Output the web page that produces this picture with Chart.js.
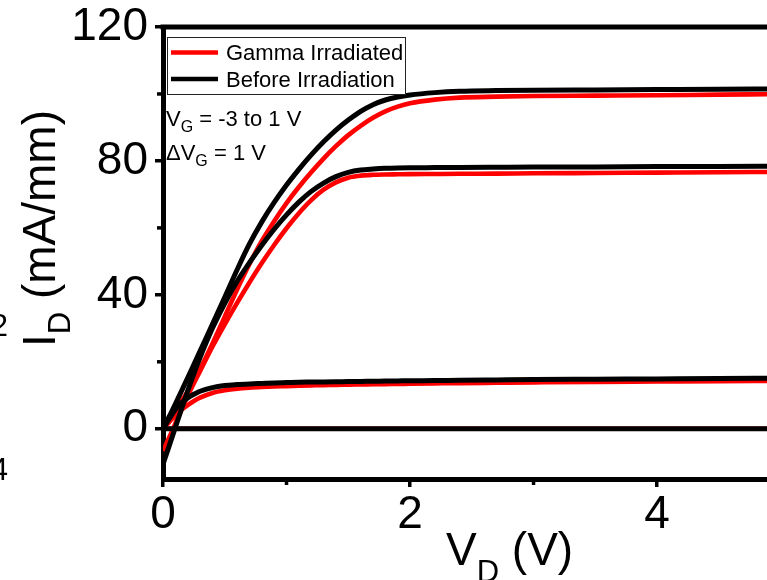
<!DOCTYPE html>
<html><head><meta charset="utf-8">
<script src="https://cdn.jsdelivr.net/npm/chart.js@4.4.0/dist/chart.umd.min.js"></script>
<style>html,body{margin:0;padding:0;background:#fff;overflow:hidden}#wrap{width:767px;height:580px;position:relative}canvas{display:block}</style>
</head><body><div id="wrap"><canvas id="c" width="767" height="580"></canvas></div>
<script>
// Drain voltage samples (V)
const vd = [0, 0.05, 0.1, 0.15, 0.2, 0.25, 0.3, 0.4, 0.5, 0.6, 0.7, 0.8, 0.9, 1.0, 1.1, 1.2, 1.3, 1.4, 1.5, 1.6, 1.7, 1.8, 1.9, 2.0, 2.2, 2.4, 2.7, 3.0, 3.5, 4.0, 4.5, 4.9];
// Before irradiation, I_D (mA/mm)
const beforeVg1   = [0, 3.6, 7.4, 11.3, 15.2, 19.2, 23.2, 31.2, 39.3, 47.5, 55.2, 61.8, 67.6, 72.8, 77.5, 81.8, 85.7, 89.2, 92.2, 94.8, 96.8, 98.2, 99.1, 99.7, 100.4, 100.8, 101.0, 101.1, 101.2, 101.3, 101.4, 101.5];
const beforeVg0   = [-10.6, -5.1, 0.4, 5.9, 11.3, 16.5, 21.3, 30, 37.5, 44, 49.6, 54.8, 59.6, 63.9, 67.7, 70.9, 73.4, 75.3, 76.6, 77.3, 77.6, 77.8, 77.9, 77.95, 78.0, 78.05, 78.1, 78.15, 78.2, 78.3, 78.35, 78.4];
const beforeVgM1  = [0, 3, 5.8, 7.8, 9.2, 10.3, 11.2, 12.3, 12.9, 13.2, 13.4, 13.55, 13.7, 13.8, 13.9, 13.95, 14.0, 14.05, 14.1, 14.15, 14.2, 14.25, 14.3, 14.35, 14.4, 14.5, 14.6, 14.7, 14.8, 14.9, 15.0, 15.1];
const beforeVgM2  = [0, 0, 0, 0, 0, 0, 0, 0, 0, 0, 0, 0, 0, 0, 0, 0, 0, 0, 0, 0, 0, 0, 0, 0, 0, 0, 0, 0, 0, 0, 0, 0];
// Gamma irradiated, I_D (mA/mm)
const gammaVg1    = [0, 2.5, 5.2, 8.2, 11.2, 14.4, 17.8, 25.4, 33.5, 41.6, 49.2, 56.1, 62.0, 67.4, 72.2, 76.6, 80.7, 84.4, 87.7, 90.5, 92.9, 94.8, 96.2, 97.2, 98.3, 98.9, 99.2, 99.4, 99.5, 99.6, 99.8, 99.9];
const gammaVg0    = [-6.6, -2.6, 1.6, 5.8, 9.8, 13.6, 17.2, 24.5, 31.2, 37.6, 43.7, 49.5, 54.9, 59.9, 64.4, 68.3, 71.4, 73.6, 75.0, 75.6, 75.85, 75.95, 76.0, 76.05, 76.1, 76.15, 76.2, 76.3, 76.4, 76.5, 76.6, 76.7];
const gammaVgM1   = [0, 2, 4, 5.7, 7.1, 8.3, 9.3, 10.7, 11.5, 12.0, 12.3, 12.5, 12.65, 12.75, 12.85, 12.95, 13.05, 13.1, 13.2, 13.25, 13.3, 13.35, 13.4, 13.45, 13.55, 13.65, 13.75, 13.85, 14.0, 14.1, 14.2, 14.3];
const gammaVgM2   = [0, 0, 0, 0, 0, 0, 0, 0, 0, 0, 0, 0, 0, 0, 0, 0, 0, 0, 0, 0, 0, 0, 0, 0, 0, 0, 0, 0, 0, 0, 0, 0];
// Axis ticks
const xMajorTicks = [0, 2, 4];
const xMinorTicks = [1, 3];
const yMajorTicks = [0, 40, 80, 120];
const yMinorTicks = [20, 60, 100];
const seriesNames = ['Gamma Irradiated', 'Before Irradiation'];

const FONT = '"Liberation Sans", Arial, Helvetica, sans-serif';
const RED = '#ff0000', BLACK = '#000000';

function pts(arr){ return vd.map((v,i)=>({x:v, y:arr[i]})); }
function ds(label, arr, color, order, width){
  return {label, data: pts(arr), borderColor: color, backgroundColor: color, borderWidth: width,
    pointRadius: 0, showLine: true, fill: false, cubicInterpolationMode: 'monotone', order};
}
const datasets = [
  ds(seriesNames[1], beforeVg1, BLACK, 0, 5),
  ds(seriesNames[1], beforeVg0, BLACK, 0, 5),
  ds(seriesNames[1], beforeVgM1, BLACK, 0, 5),
  ds(seriesNames[1], beforeVgM2, BLACK, 0, 5),
  ds(seriesNames[0], gammaVg1, RED, 1, 4.6),
  ds(seriesNames[0], gammaVg0, RED, 1, 4.6),
  ds(seriesNames[0], gammaVgM1, RED, 1, 4.6),
  ds(seriesNames[0], gammaVgM2, RED, 1, 4.6)
];

function drawRuns(ctx, x, y, parts){
  let cx = x;
  for (const p of parts){
    ctx.font = p.size + 'px ' + FONT;
    ctx.fillText(p.t, cx, y + (p.dy||0));
    cx += ctx.measureText(p.t).width;
  }
}

const deco = {
  id: 'deco',
  afterDraw(chart){
    const ctx = chart.ctx, ca = chart.chartArea;
    const xs = chart.scales.x, ys = chart.scales.y;
    ctx.save();
    ctx.strokeStyle = BLACK; ctx.fillStyle = BLACK;
    // top frame line
    ctx.lineWidth = 5;
    ctx.beginPath(); ctx.moveTo(ca.left - 2.5, ca.top); ctx.lineTo(ca.right + 3, ca.top); ctx.stroke();
    // minor ticks
    ctx.lineWidth = 3.5;
    for (const v of yMinorTicks){
      const py = ys.getPixelForValue(v);
      ctx.beginPath(); ctx.moveTo(ca.left - 2, py); ctx.lineTo(ca.left - 6, py); ctx.stroke();
    }
    for (const v of xMinorTicks){
      const px = xs.getPixelForValue(v);
      ctx.beginPath(); ctx.moveTo(px, ca.bottom + 2); ctx.lineTo(px, ca.bottom + 6); ctx.stroke();
    }
    // legend
    const lx = 167, ly = 37, lw = 238, lh = 57;
    ctx.fillStyle = '#fff'; ctx.fillRect(lx, ly, lw, lh);
    ctx.lineWidth = 1; ctx.strokeStyle = '#222';
    ctx.strokeRect(lx + 0.5, ly + 0.5, lw, lh);
    ctx.lineWidth = 4.5;
    ctx.strokeStyle = RED;
    ctx.beginPath(); ctx.moveTo(171, 52.5); ctx.lineTo(218, 52.5); ctx.stroke();
    ctx.strokeStyle = BLACK;
    ctx.beginPath(); ctx.moveTo(171, 79); ctx.lineTo(218, 79); ctx.stroke();
    ctx.fillStyle = BLACK; ctx.textAlign = 'left'; ctx.textBaseline = 'alphabetic';
    ctx.font = '22px ' + FONT;
    ctx.fillText(seriesNames[0], 226, 60);
    ctx.fillText(seriesNames[1], 226, 87);
    // annotation
    drawRuns(ctx, 166, 126, [{t:'V', size:22}, {t:'G', size:16, dy:5.5}, {t:' = -3 to 1 V', size:22}]);
    drawRuns(ctx, 166, 160, [{t:'\u0394V', size:22}, {t:'G', size:16, dy:5.5}, {t:' = 1 V', size:22}]);
    // x axis title
    drawRuns(ctx, 446, 565, [{t:'V', size:46}, {t:'D', size:31, dy:17}, {t:' (V)', size:46}]);
    // y axis title (rotated)
    ctx.save();
    ctx.translate(55, 347);
    ctx.rotate(-Math.PI/2);
    drawRuns(ctx, 0, 0, [{t:'I', size:46}, {t:'D', size:31, dy:15}, {t:' (mA/mm)', size:46}]);
    ctx.restore();
    // fragments of neighbouring panel at far left
    ctx.textAlign = 'right';
    ctx.font = '31px ' + FONT;
    ctx.fillText('2', 8, 336);
    ctx.fillText('4', 8, 480);
    ctx.restore();
  }
};

function zeroPad(s){ s.paddingTop = 0; s.paddingBottom = 0; s.paddingLeft = 0; s.paddingRight = 0; }

new Chart(document.getElementById('c'), {
  type: 'scatter',
  data: { datasets },
  options: {
    responsive: false, animation: false, devicePixelRatio: 1,
    layout: { padding: { top: 27, right: 0, left: 0, bottom: 0 } },
    plugins: { legend: { display: false }, tooltip: { enabled: false } },
    scales: {
      x: {
        type: 'linear', position: 'bottom', min: 0, max: 4.89,
        afterFit: s => { s.height = 101; zeroPad(s); },
        afterBuildTicks: s => { s.ticks = xMajorTicks.map(v => ({value: v})); },
        ticks: { font: { family: FONT, size: 46 }, color: BLACK, padding: 1, maxRotation: 0, autoSkip: false },
        grid: { drawOnChartArea: false, drawTicks: true, tickLength: 8, lineWidth: 3.5, color: BLACK },
        border: { display: true, width: 5, color: BLACK }
      },
      y: {
        type: 'linear', position: 'left', min: -15, max: 120,
        afterFit: s => { s.width = 163; zeroPad(s); },
        afterBuildTicks: s => { s.ticks = yMajorTicks.map(v => ({value: v})); },
        ticks: { font: { family: FONT, size: 46 }, color: BLACK, padding: 7, autoSkip: false },
        grid: { drawOnChartArea: false, drawTicks: true, tickLength: 8, lineWidth: 3.5, color: BLACK },
        border: { display: true, width: 5, color: BLACK }
      }
    }
  },
  plugins: [deco]
});
</script>
</body></html>
